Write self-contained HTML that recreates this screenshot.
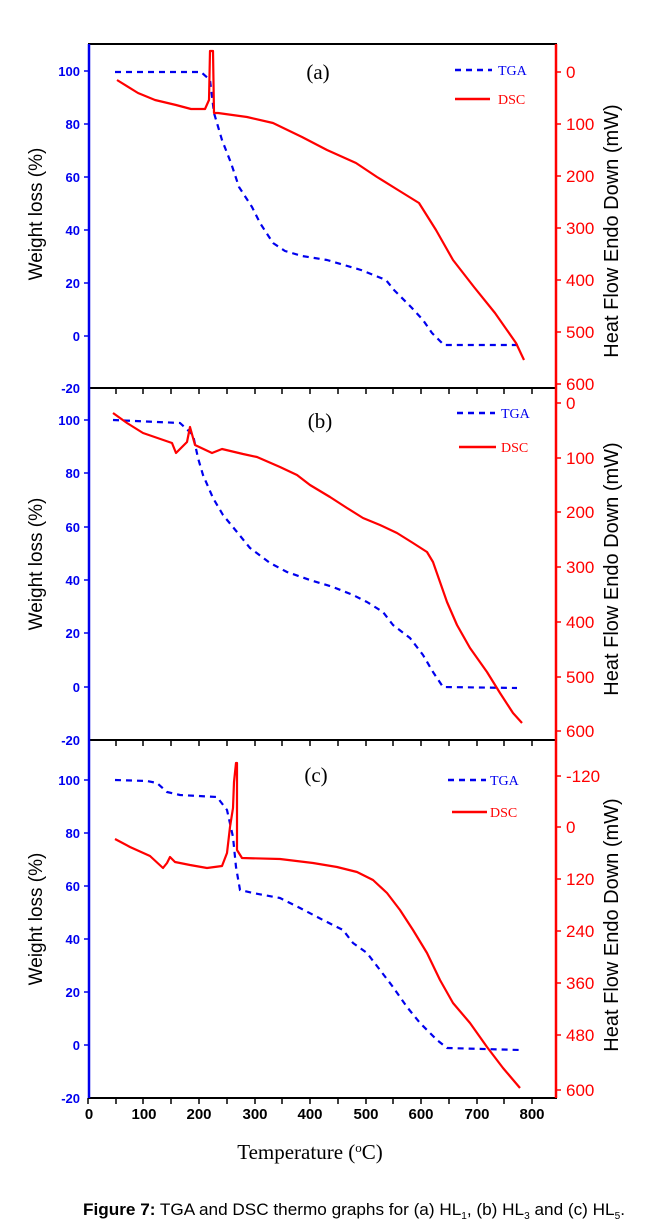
<!DOCTYPE html>
<html><head><meta charset="utf-8"><style>
body{margin:0;background:#fff}
svg{display:block}
.lb{font-family:"Liberation Sans",Arial,sans-serif;font-weight:bold;font-size:13px;fill:#0000ee}
.rb{font-family:"Liberation Sans",Arial,sans-serif;font-size:17px;fill:#ff0000}
.ti{font-family:"Liberation Sans",Arial,sans-serif;font-size:19px;fill:#000}
.se{font-family:"Liberation Serif",serif}
</style></head><body>
<svg width="654" height="1222" viewBox="0 0 654 1222" xmlns="http://www.w3.org/2000/svg">
<g stroke="#000" stroke-width="2" fill="none">
<line x1="88" y1="44" x2="557" y2="44"/>
<line x1="88" y1="388" x2="557" y2="388"/>
<line x1="88" y1="740" x2="557" y2="740"/>
<line x1="88" y1="1098" x2="557" y2="1098"/>
</g>
<g stroke="#0000ee" stroke-width="2.5"><line x1="89" y1="44" x2="89" y2="1098"/></g>
<g stroke="#ff0000" stroke-width="2.5"><line x1="556" y1="44" x2="556" y2="1098"/></g>
<g stroke="#000" stroke-width="1.5">
<line x1="116" y1="388" x2="116" y2="394"/><line x1="143" y1="388" x2="143" y2="394"/><line x1="171" y1="388" x2="171" y2="394"/><line x1="199" y1="388" x2="199" y2="394"/><line x1="227" y1="388" x2="227" y2="394"/><line x1="255" y1="388" x2="255" y2="394"/><line x1="282" y1="388" x2="282" y2="394"/><line x1="310" y1="388" x2="310" y2="394"/><line x1="338" y1="388" x2="338" y2="394"/><line x1="366" y1="388" x2="366" y2="394"/><line x1="393" y1="388" x2="393" y2="394"/><line x1="421" y1="388" x2="421" y2="394"/><line x1="449" y1="388" x2="449" y2="394"/><line x1="477" y1="388" x2="477" y2="394"/><line x1="504" y1="388" x2="504" y2="394"/><line x1="532" y1="388" x2="532" y2="394"/>
<line x1="116" y1="740" x2="116" y2="746"/><line x1="143" y1="740" x2="143" y2="746"/><line x1="171" y1="740" x2="171" y2="746"/><line x1="199" y1="740" x2="199" y2="746"/><line x1="227" y1="740" x2="227" y2="746"/><line x1="255" y1="740" x2="255" y2="746"/><line x1="282" y1="740" x2="282" y2="746"/><line x1="310" y1="740" x2="310" y2="746"/><line x1="338" y1="740" x2="338" y2="746"/><line x1="366" y1="740" x2="366" y2="746"/><line x1="393" y1="740" x2="393" y2="746"/><line x1="421" y1="740" x2="421" y2="746"/><line x1="449" y1="740" x2="449" y2="746"/><line x1="477" y1="740" x2="477" y2="746"/><line x1="504" y1="740" x2="504" y2="746"/><line x1="532" y1="740" x2="532" y2="746"/>
<line x1="88" y1="1098" x2="88" y2="1104"/><line x1="116" y1="1098" x2="116" y2="1104"/><line x1="143" y1="1098" x2="143" y2="1104"/><line x1="171" y1="1098" x2="171" y2="1104"/><line x1="199" y1="1098" x2="199" y2="1104"/><line x1="227" y1="1098" x2="227" y2="1104"/><line x1="255" y1="1098" x2="255" y2="1104"/><line x1="282" y1="1098" x2="282" y2="1104"/><line x1="310" y1="1098" x2="310" y2="1104"/><line x1="338" y1="1098" x2="338" y2="1104"/><line x1="366" y1="1098" x2="366" y2="1104"/><line x1="393" y1="1098" x2="393" y2="1104"/><line x1="421" y1="1098" x2="421" y2="1104"/><line x1="449" y1="1098" x2="449" y2="1104"/><line x1="477" y1="1098" x2="477" y2="1104"/><line x1="504" y1="1098" x2="504" y2="1104"/><line x1="532" y1="1098" x2="532" y2="1104"/>
</g>
<g stroke="#0000ee" stroke-width="1.5">
<line x1="84" y1="71" x2="89" y2="71"/><line x1="84" y1="124" x2="89" y2="124"/><line x1="84" y1="177" x2="89" y2="177"/><line x1="84" y1="230" x2="89" y2="230"/><line x1="84" y1="283" x2="89" y2="283"/><line x1="84" y1="336" x2="89" y2="336"/>
<line x1="84" y1="420" x2="89" y2="420"/><line x1="84" y1="473" x2="89" y2="473"/><line x1="84" y1="527" x2="89" y2="527"/><line x1="84" y1="580" x2="89" y2="580"/><line x1="84" y1="633" x2="89" y2="633"/><line x1="84" y1="687" x2="89" y2="687"/>
<line x1="84" y1="780" x2="89" y2="780"/><line x1="84" y1="833" x2="89" y2="833"/><line x1="84" y1="886" x2="89" y2="886"/><line x1="84" y1="939" x2="89" y2="939"/><line x1="84" y1="992" x2="89" y2="992"/><line x1="84" y1="1045" x2="89" y2="1045"/>
</g>
<g stroke="#ff0000" stroke-width="1.5">
<line x1="556" y1="72" x2="561" y2="72"/><line x1="556" y1="124" x2="561" y2="124"/><line x1="556" y1="176" x2="561" y2="176"/><line x1="556" y1="228" x2="561" y2="228"/><line x1="556" y1="280" x2="561" y2="280"/><line x1="556" y1="332" x2="561" y2="332"/><line x1="556" y1="384" x2="561" y2="384"/>
<line x1="556" y1="403" x2="561" y2="403"/><line x1="556" y1="458" x2="561" y2="458"/><line x1="556" y1="512" x2="561" y2="512"/><line x1="556" y1="567" x2="561" y2="567"/><line x1="556" y1="622" x2="561" y2="622"/><line x1="556" y1="677" x2="561" y2="677"/><line x1="556" y1="731" x2="561" y2="731"/>
<line x1="556" y1="776" x2="561" y2="776"/><line x1="556" y1="827" x2="561" y2="827"/><line x1="556" y1="879" x2="561" y2="879"/><line x1="556" y1="931" x2="561" y2="931"/><line x1="556" y1="983" x2="561" y2="983"/><line x1="556" y1="1035" x2="561" y2="1035"/><line x1="556" y1="1090" x2="561" y2="1090"/>
</g>
<g class="lb" text-anchor="end">
<text x="80" y="76">100</text><text x="80" y="129">80</text><text x="80" y="182">60</text><text x="80" y="235">40</text><text x="80" y="288">20</text><text x="80" y="341">0</text><text x="80" y="393">-20</text>
<text x="80" y="425">100</text><text x="80" y="478">80</text><text x="80" y="532">60</text><text x="80" y="585">40</text><text x="80" y="638">20</text><text x="80" y="692">0</text><text x="80" y="745">-20</text>
<text x="80" y="785">100</text><text x="80" y="838">80</text><text x="80" y="891">60</text><text x="80" y="944">40</text><text x="80" y="997">20</text><text x="80" y="1050">0</text><text x="80" y="1103">-20</text>
</g>
<g class="rb">
<text x="566" y="78">0</text><text x="566" y="130">100</text><text x="566" y="182">200</text><text x="566" y="234">300</text><text x="566" y="286">400</text><text x="566" y="338">500</text><text x="566" y="390">600</text>
<text x="566" y="409">0</text><text x="566" y="464">100</text><text x="566" y="518">200</text><text x="566" y="573">300</text><text x="566" y="628">400</text><text x="566" y="683">500</text><text x="566" y="737">600</text>
<text x="566" y="782">-120</text><text x="566" y="833">0</text><text x="566" y="885">120</text><text x="566" y="937">240</text><text x="566" y="989">360</text><text x="566" y="1041">480</text><text x="566" y="1096">600</text>
</g>
<g class="lb" style="fill:#000;font-size:15px" text-anchor="middle">
<text x="89" y="1119">0</text><text x="144" y="1119">100</text><text x="199" y="1119">200</text><text x="255" y="1119">300</text><text x="310" y="1119">400</text><text x="366" y="1119">500</text><text x="421" y="1119">600</text><text x="477" y="1119">700</text><text x="532" y="1119">800</text>
</g>
<g class="ti" text-anchor="middle">
<text transform="translate(42,214) rotate(-90)">Weight loss (%)</text>
<text transform="translate(42,564) rotate(-90)">Weight loss (%)</text>
<text transform="translate(42,919) rotate(-90)">Weight loss (%)</text>
<text transform="translate(618,231) rotate(-90)" style="font-size:20px">Heat Flow Endo Down (mW)</text>
<text transform="translate(618,569) rotate(-90)" style="font-size:20px">Heat Flow Endo Down (mW)</text>
<text transform="translate(618,925) rotate(-90)" style="font-size:20px">Heat Flow Endo Down (mW)</text>
</g>
<text x="310" y="1159" class="se" font-size="21" text-anchor="middle">Temperature (<tspan font-size="13" dy="-7">o</tspan><tspan dy="7">C)</tspan></text>
<text x="354" y="1215" font-family="Liberation Sans,Arial,sans-serif" font-size="17" text-anchor="middle" textLength="542" lengthAdjust="spacingAndGlyphs"><tspan font-weight="bold">Figure 7:</tspan> TGA and DSC thermo graphs for (a) HL<tspan font-size="10" dy="4">1</tspan><tspan dy="-4">, (b) HL</tspan><tspan font-size="10" dy="4">3</tspan><tspan dy="-4"> and (c) HL</tspan><tspan font-size="10" dy="4">5</tspan><tspan dy="-4">.</tspan></text>
<g class="se" font-size="21" text-anchor="middle">
<text x="318" y="79">(a)</text><text x="320" y="428">(b)</text><text x="316" y="782">(c)</text>
</g>
<g stroke-width="2.5">
<line x1="455" y1="70" x2="492" y2="70" stroke="#0000ee" stroke-dasharray="6,5"/>
<line x1="455" y1="99" x2="490" y2="99" stroke="#ff0000"/>
<line x1="457" y1="413" x2="495" y2="413" stroke="#0000ee" stroke-dasharray="6,5"/>
<line x1="459" y1="447" x2="496" y2="447" stroke="#ff0000"/>
<line x1="448" y1="780" x2="486" y2="780" stroke="#0000ee" stroke-dasharray="6,5"/>
<line x1="452" y1="812" x2="487" y2="812" stroke="#ff0000"/>
</g>
<g class="se" font-size="14">
<text x="498" y="75" fill="#0000ee">TGA</text><text x="498" y="104" fill="#ff0000">DSC</text>
<text x="501" y="418" fill="#0000ee">TGA</text><text x="501" y="452" fill="#ff0000">DSC</text>
<text x="490" y="785" fill="#0000ee">TGA</text><text x="490" y="817" fill="#ff0000">DSC</text>
</g>
<g fill="none" stroke-width="2.2" stroke-linejoin="round">
<polyline stroke="#0000ee" stroke-dasharray="6,5" points="115,72 201,72 210,80 214,113 222,140 231,163 239,187 252,207 260,223 273,243 285,251 302,256 327,260 361,270 386,280 394,290 411,307 423,320 432,333 444,345 520,345"/>
<polyline stroke="#ff0000" points="117,80 138,93 155,100 176,105 191,109 205,109 209,100 210,51 213,51 214,113 218,113 247,117 273,123 302,137 327,150 356,163 377,177 398,190 419,203 436,230 453,260 474,287 495,313 516,343 524,360"/>
<polyline stroke="#0000ee" stroke-dasharray="6,5" points="113,420 180,423 193,435 198,458 203,475 213,498 223,515 237,532 250,548 270,563 287,572 310,580 333,587 353,595 367,602 383,612 393,625 410,638 423,655 433,672 443,687 517,688"/>
<polyline stroke="#ff0000" points="113,413 127,423 143,433 172,443 176,453 187,442 190,427 195,445 212,453 222,449 243,454 257,457 280,467 297,475 310,485 330,497 347,508 363,518 380,525 397,533 413,543 427,552 433,562 440,582 447,602 457,625 470,648 487,672 500,693 513,713 522,723"/>
<polyline stroke="#0000ee" stroke-dasharray="6,5" points="115,780 147,781 157,783 167,792 180,795 217,797 227,810 233,837 236,867 240,890 253,893 280,898 300,908 323,920 343,930 353,943 367,953 380,970 393,987 407,1007 420,1023 437,1040 447,1048 520,1050"/>
<polyline stroke="#ff0000" points="115,839 130,847 150,856 163,868 167,863 170,857 175,862 190,865 207,868 222,866 227,853 230,827 233,808 234,782 236,763 237,763 237,850 242,858 280,859 313,863 337,867 357,872 373,880 387,893 400,910 413,930 427,953 440,980 453,1003 470,1023 487,1047 503,1068 520,1088"/>
</g>
</svg>
</body></html>
